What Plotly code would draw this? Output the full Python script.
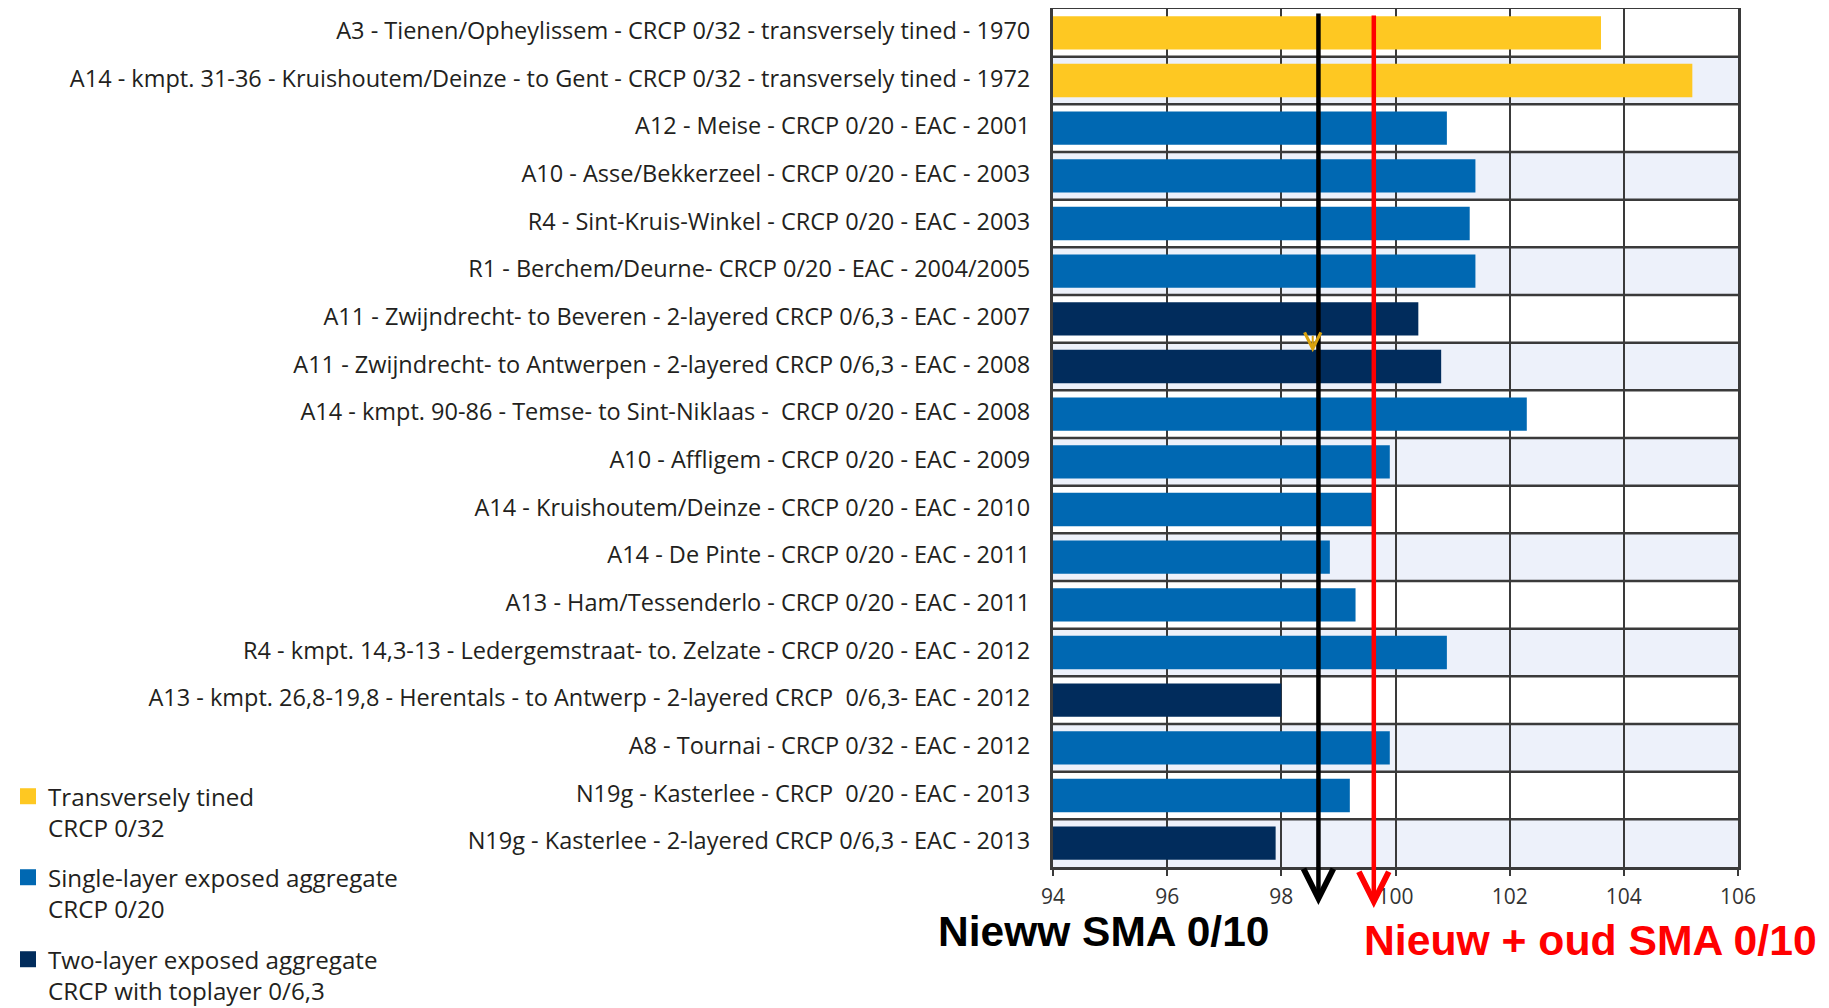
import plotly.graph_objects as go

# ---------------- data ----------------
labels = [
    "A3 - Tienen/Opheylissem - CRCP 0/32 - transversely tined - 1970",
    "A14 - kmpt. 31-36 - Kruishoutem/Deinze - to Gent - CRCP 0/32 - transversely tined - 1972",
    "A12 - Meise - CRCP 0/20 - EAC - 2001",
    "A10 - Asse/Bekkerzeel - CRCP 0/20 - EAC - 2003",
    "R4 - Sint-Kruis-Winkel - CRCP 0/20 - EAC - 2003",
    "R1 - Berchem/Deurne- CRCP 0/20 - EAC - 2004/2005",
    "A11 - Zwijndrecht- to Beveren - 2-layered CRCP 0/6,3 - EAC - 2007",
    "A11 - Zwijndrecht- to Antwerpen - 2-layered CRCP 0/6,3 - EAC - 2008",
    "A14 - kmpt. 90-86 - Temse- to Sint-Niklaas - \u00a0CRCP 0/20 - EAC - 2008",
    "A10 - Affligem - CRCP 0/20 - EAC - 2009",
    "A14 - Kruishoutem/Deinze - CRCP 0/20 - EAC - 2010",
    "A14 - De Pinte - CRCP 0/20 - EAC - 2011",
    "A13 - Ham/Tessenderlo - CRCP 0/20 - EAC - 2011",
    "R4 - kmpt. 14,3-13 - Ledergemstraat- to. Zelzate - CRCP 0/20 - EAC - 2012",
    "A13 - kmpt. 26,8-19,8 - Herentals - to Antwerp - 2-layered CRCP \u00a00/6,3- EAC - 2012",
    "A8 - Tournai - CRCP 0/32 - EAC - 2012",
    "N19g - Kasterlee - CRCP \u00a00/20 - EAC - 2013",
    "N19g - Kasterlee - 2-layered CRCP 0/6,3 - EAC - 2013",
]
values = [103.6, 105.2, 100.9, 101.4, 101.3, 101.4, 100.4, 100.8, 102.3,
          99.9, 99.6, 98.85, 99.3, 100.9, 98.0, 99.9, 99.2, 97.9]
surface = ["tined", "tined", "single", "single", "single", "single", "two", "two",
           "single", "single", "single", "single", "single", "single", "two",
           "single", "single", "two"]

types = ["tined", "single", "two"]
type_names = {
    "tined": "Transversely tined<br>CRCP 0/32",
    "single": "Single-layer exposed aggregate<br>CRCP 0/20",
    "two": "Two-layer exposed aggregate<br>CRCP with toplayer 0/6,3",
}
type_colors = {"tined": "#FEC822", "single": "#0068B2", "two": "#012C5C"}

x_ticks = [94, 96, 98, 100, 102, 104, 106]
x_range = [94, 106]

new_sma = 98.65          # "Nieww SMA 0/10"
all_sma = 99.62          # "Nieuw + oud SMA 0/10"

# ---------------- figure geometry ----------------
OFF = 8                      # default body margin of the page
W, H = 1829 - OFF, 1008 - OFF
ML, MR, MT, MB = 1045, 91, 1, 141
PW, PH = W - ML - MR, H - MT - MB


def paper_y(page_y):
    return (MT + PH - (page_y - OFF)) / PH


def paper_x(page_x):
    return (page_x - OFF - ML) / PW


fig = go.Figure()

legend_ids = {"tined": "legend", "single": "legend2", "two": "legend3"}
for t in types:
    ys = [l for l, s in zip(labels, surface) if s == t]
    xs = [v for v, s in zip(values, surface) if s == t]
    fig.add_trace(go.Bar(
        y=ys, x=xs, orientation="h", marker=dict(color=type_colors[t], line=dict(width=0)),
        showlegend=False, hoverinfo="x+y",
    ))
    fig.add_trace(go.Scatter(
        x=[None], y=[None], mode="markers", name=type_names[t],
        marker=dict(symbol="square", size=16, color=type_colors[t]),
        legend=legend_ids[t], showlegend=True,
    ))

# alternating row bands and row separators
shapes = []
n = len(labels)
for i in range(n):
    if i % 2 == 1:
        shapes.append(dict(type="rect", xref="paper", yref="y", x0=0, x1=1,
                           y0=i - 0.5, y1=i + 0.5, fillcolor="#EDF1FA",
                           line=dict(width=0), layer="below"))
for i in range(1, n):
    shapes.append(dict(type="line", xref="paper", yref="y", x0=0, x1=1,
                       y0=i - 0.5, y1=i - 0.5,
                       line=dict(color="#3A3A3A", width=2.5), layer="between"))
fig.update_layout(shapes=shapes)

label_font = dict(family="Open Sans", size=23.5, color="#231F20")

fig.update_layout(
    width=W, height=H,
    margin=dict(l=ML, r=MR, t=MT, b=MB, autoexpand=False),
    paper_bgcolor="white", plot_bgcolor="white",
    barmode="overlay", bargap=0.3,
    font=label_font,
    xaxis=dict(range=x_range, tickvals=x_ticks, showgrid=True, gridcolor="#3A3A3A",
               gridwidth=2, zeroline=False, showline=True, linecolor="#3A3A3A",
               linewidth=3, mirror=True, ticks="outside", ticklen=6, tickwidth=2,
               tickcolor="#3A3A3A", ticklabelstandoff=3,
               tickfont=dict(family="Open Sans", size=21, color="#333333"),
               fixedrange=True),
    yaxis=dict(categoryorder="array", categoryarray=labels, autorange="reversed",
               showgrid=False, zeroline=False, showline=True, linecolor="#3A3A3A",
               linewidth=3, mirror=True, ticks="", ticklabelstandoff=15,
               ticklabelshift=2,
               tickfont=label_font, automargin=False, fixedrange=True),
)

leg_common = dict(xref="container", yref="container", xanchor="left", yanchor="top",
                  bgcolor="rgba(0,0,0,0)", borderwidth=0, valign="top",
                  font=dict(family="Open Sans", size=24.2, color="#231F20"),
                  itemclick=False, itemdoubleclick=False)
fig.update_layout(
    legend=dict(x=0, y=1 - (774 - OFF) / H, **leg_common),
    legend2=dict(x=0, y=1 - (855 - OFF) / H, **leg_common),
    legend3=dict(x=0, y=1 - (937 - OFF) / H, **leg_common),
)

annotations = [
    dict(x=new_sma, xref="x", y=paper_y(905), yref="paper", text="", showarrow=True,
         ax=0, ay=-(905 - 12), axref="pixel", ayref="pixel", arrowhead=5,
         arrowwidth=4.5, arrowsize=1.3, arrowcolor="#000000", standoff=0),
    dict(x=all_sma, xref="x", y=paper_y(908), yref="paper", text="", showarrow=True,
         ax=0, ay=-(908 - 14), axref="pixel", ayref="pixel", arrowhead=5,
         arrowwidth=4.5, arrowsize=1.3, arrowcolor="#FF0000", standoff=0),
    dict(x=98.55, xref="x", y=6.7, yref="y", text="", showarrow=True,
         ax=0, ay=-18, arrowhead=5, arrowwidth=2, arrowsize=1.6,
         arrowcolor="#D9A20E", standoff=0),
    dict(x=paper_x(1103), xref="paper", y=paper_y(932), yref="paper",
         text="<b>Nieww SMA 0/10</b>", showarrow=False, xanchor="center", yanchor="middle",
         font=dict(family="Liberation Sans", size=42.5, color="#000000")),
    dict(x=paper_x(1590), xref="paper", y=paper_y(940), yref="paper",
         text="<b>Nieuw + oud SMA 0/10</b>", showarrow=False, xanchor="center",
         yanchor="middle",
         font=dict(family="Liberation Sans", size=42.7, color="#FF0000")),
]
fig.update_layout(annotations=annotations)

fig.write_html("out.html")
